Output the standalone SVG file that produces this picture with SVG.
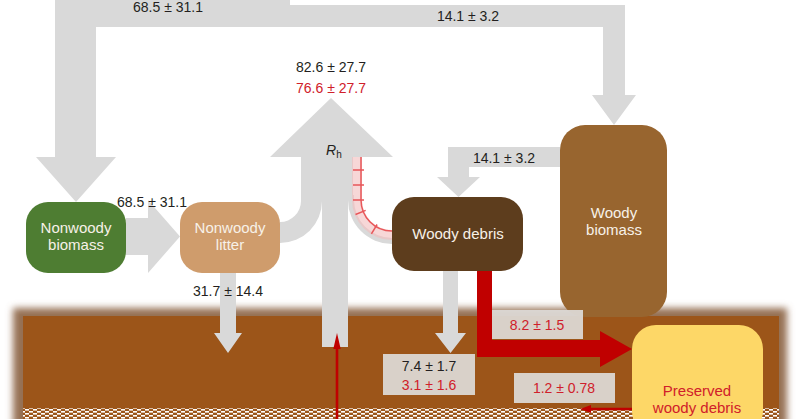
<svg xmlns="http://www.w3.org/2000/svg" width="800" height="419" viewBox="0 0 800 419">
<defs>
<style>
.flow{fill:#d9d9d9}
.num{font-family:"Liberation Sans",Arial,sans-serif;font-size:14px;fill:#231f20;text-anchor:middle}
.red{fill:#d0202a}
.nl{font-family:"Liberation Sans",Arial,sans-serif;font-size:15px;fill:#f7f1e8;text-anchor:middle}
.box{fill:#dedad7;opacity:0.93}
.tick{stroke:#e8575a;stroke-width:1.5;fill:none}
</style>
<filter id="blur" x="-5%" y="-20%" width="110%" height="140%"><feGaussianBlur stdDeviation="3.5"/></filter>
<pattern id="dots" x="0" y="409" width="8" height="4" patternUnits="userSpaceOnUse">
<rect x="1" y="0" width="4" height="1.6" fill="#fff"/>
<rect x="5" y="2" width="4" height="1.6" fill="#fff"/>
<rect x="-3" y="2" width="4" height="1.6" fill="#fff"/>
</pattern>
</defs>
<rect width="800" height="419" fill="#fff"/>

<g id="soil">
<rect x="13" y="308" width="774" height="124" fill="#957052" filter="url(#blur)"/>
<rect x="23" y="316" width="756" height="110" fill="#9c5519"/>
<rect x="23" y="408" width="756" height="11" fill="url(#dots)"/>
</g>

<g id="connectors">
<path class="flow" d="M55,-2 H290 V5 H625 V95 H636 L614,125 L592,95 H603 V27 H96 V157 H116 L76,202 L36,157 H55 Z"/>
<path class="flow" d="M560,147 H448 V177 H437 L458.5,197 L480,177 H469 V167 H560 Z"/>
<path class="flow" d="M126,218 H148 V200 L180,236.5 L148,273 V255 H126 Z"/>
<path class="flow" d="M220,273 H236 V333 H242 L228,353 L214,333 H220 Z"/>
<path class="flow" d="M443,271 H458 V333 H466 L450.5,353 L435,333 H443 Z"/>
<g id="rh">
<path class="flow" d="M331,98 L393,157 H353 V200 H348 V347 H322 V201 A42,42 0 0 1 280,243 V222 A21,21 0 0 0 301,201 V157 H270 Z"/>
<path class="flow" d="M348,200 A44,44 0 0 0 392,244 V238 A38,38 0 0 1 354,200 V195 H348 Z"/>
<path d="M352,157 V200 A40,40 0 0 0 392,240 V230 A30,30 0 0 1 362,200 V157 Z" fill="#f2bcbc" opacity="0.6"/>
<path class="tick" d="M361,157 V200 A31,31 0 0 0 392,231"/>
<path class="tick" d="M353,170 H364 M353,185 H364 M353,200 H364 M355.5,214.5 L365.7,210.4 M371.4,233.9 L377.1,224.5"/>
</g>
<path d="M477,271 V357 H600 V367 L632,349 L600,331 V340 H492 V271 Z" fill="#c00000"/>
<line x1="337" y1="419" x2="337" y2="345" stroke="#c00000" stroke-width="2.6"/>
<path d="M333.3,349 L337,333 L340.7,349 Z" fill="#c00000"/>
<line x1="634" y1="409" x2="590" y2="409" stroke="#c00000" stroke-width="2.6"/>
<path d="M591,405 L580,409 L591,413 Z" fill="#c00000"/>
</g>

<g id="nonwoody-biomass">
<rect x="26" y="202" width="100" height="71" rx="22" fill="#4e7d32"/>
<text class="nl" x="76" y="233">Nonwoody</text>
<text class="nl" x="76" y="250">biomass</text>
</g>
<g id="nonwoody-litter">
<rect x="180" y="202" width="100" height="71" rx="22" fill="#cf9c6c"/>
<text class="nl" x="230" y="233">Nonwoody</text>
<text class="nl" x="230" y="250">litter</text>
</g>
<g id="woody-debris">
<rect x="392" y="197" width="131" height="74" rx="22" fill="#5d3d1d"/>
<text class="nl" x="458" y="239">Woody debris</text>
</g>
<g id="woody-biomass">
<rect x="560" y="125" width="107" height="192" rx="25" fill="#98652f"/>
<text class="nl" x="614" y="218">Woody</text>
<text class="nl" x="614" y="235">biomass</text>
</g>
<g id="preserved-woody-debris">
<rect x="632" y="325" width="131" height="110" rx="24" fill="#fdd767"/>
<text class="nl" x="697" y="396" style="fill:#d0202a">Preserved</text>
<text class="nl" x="697" y="413" style="fill:#d0202a">woody debris</text>
</g>

<g id="labels">
<text class="num" x="168" y="12">68.5 ± 31.1</text>
<text class="num" x="468" y="21">14.1 ± 3.2</text>
<text class="num" x="331" y="72">82.6 ± 27.7</text>
<text class="num red" x="331" y="93">76.6 ± 27.7</text>
<text x="326" y="155" style="font-family:'Liberation Sans',Arial,sans-serif;font-size:14px;font-style:italic;fill:#231f20">R<tspan dy="3" style="font-style:normal;font-size:10px">h</tspan></text>
<text class="num" x="152" y="207">68.5 ± 31.1</text>
<text class="num" x="504" y="163">14.1 ± 3.2</text>
<text class="num" x="228" y="296">31.7 ± 14.4</text>
<rect class="box" x="492" y="310" width="91" height="29"/>
<text class="num red" x="537" y="330">8.2 ± 1.5</text>
<rect class="box" x="383" y="354" width="92" height="41"/>
<text class="num" x="429" y="371">7.4 ± 1.7</text>
<text class="num red" x="429" y="390">3.1 ± 1.6</text>
<rect class="box" x="514" y="373" width="101" height="30"/>
<text class="num red" x="564" y="393">1.2 ± 0.78</text>
</g>
</svg>
